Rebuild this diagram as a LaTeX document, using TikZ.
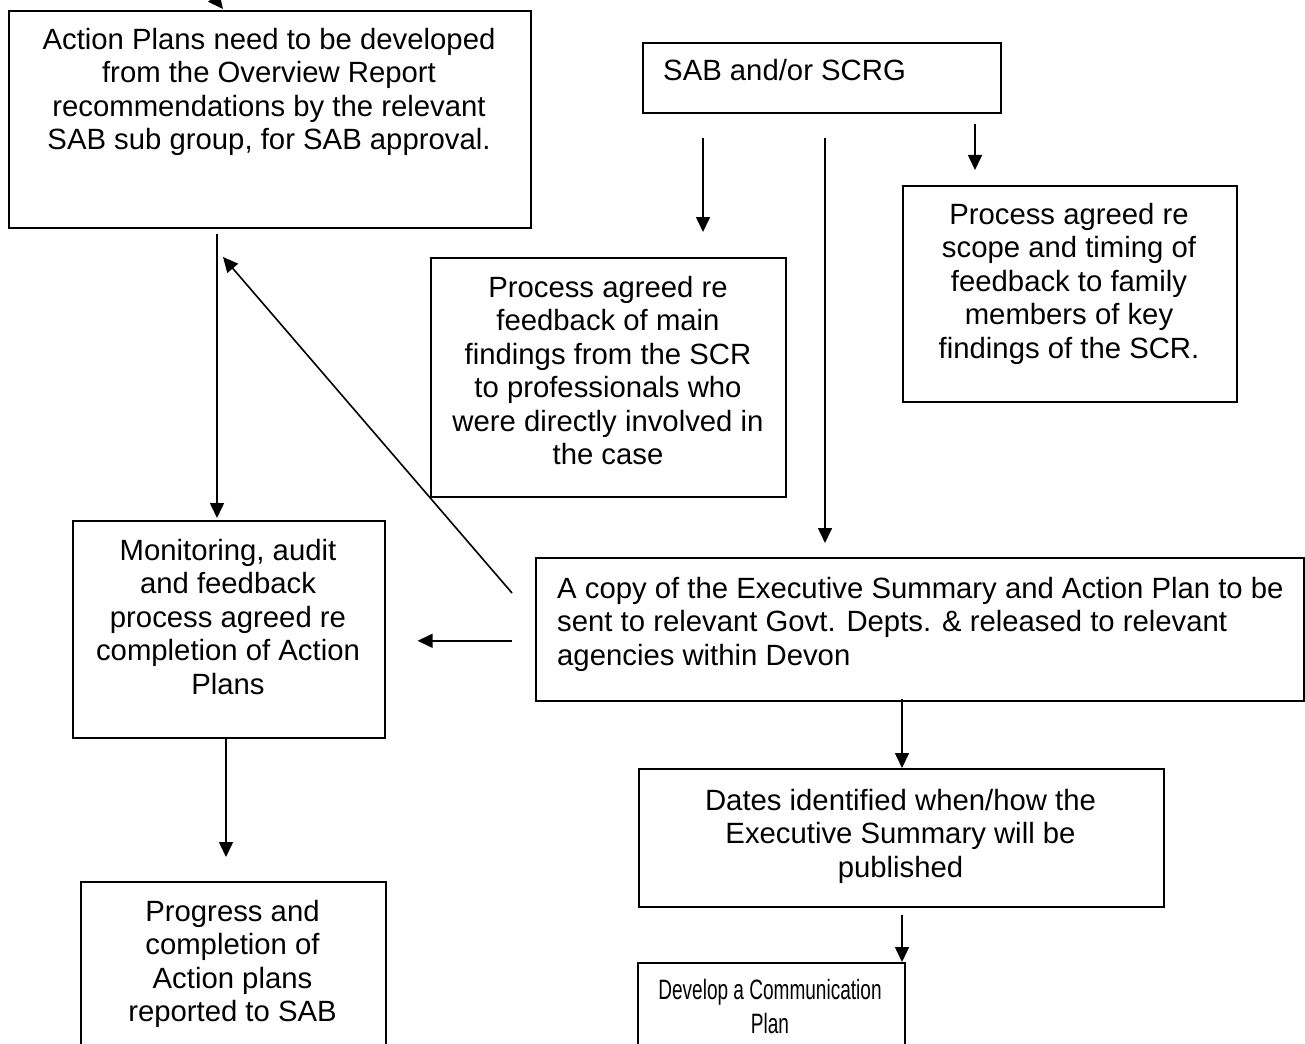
\documentclass[tikz,border=0pt]{standalone}
\usepackage{fontspec}
\setmainfont{Liberation Sans}
\usetikzlibrary{arrows.meta,calc}
\tikzset{
  box/.style={draw, line width=1.6pt, inner sep=0pt, anchor=north west},
  txt/.style={inner sep=0pt, align=center, anchor=north, font=\fontsize{29.3}{33.5}\selectfont},
  ltxt/.style={inner sep=0pt, align=left, anchor=north west, font=\fontsize{29.3}{33.5}\selectfont},
  arr/.style={line width=1.6pt, -{Triangle[length=15pt,width=14pt]}},
}
\begin{document}
\begin{tikzpicture}[x=1pt,y=-1pt]
\useasboundingbox (0,0) rectangle (1305,1043);
\clip (0,0) rectangle (1305,1043);
\fill[white] (0,0) rectangle (1305,1043);
% boxes
\node[box, minimum width=522pt, minimum height=217pt] (pa) at (8,10) {};
\node[box, minimum width=358pt, minimum height=70pt] (sab) at (642,42) {};
\node[box, minimum width=334pt, minimum height=216pt] (scope) at (902,185) {};
\node[box, minimum width=355pt, minimum height=239pt] (fb) at (430,257) {};
\node[box, minimum width=312pt, minimum height=217pt] (mon) at (72,520) {};
\node[box, minimum width=768pt, minimum height=143pt] (copy) at (535,557) {};
\node[box, minimum width=525pt, minimum height=138pt] (dates) at (638,768) {};
\node[box, minimum width=305pt, minimum height=190pt] (prog) at (80,881) {};
\node[box, minimum width=267pt, minimum height=110pt] (comm) at (637,962) {};
% texts
\node[txt] (pa-t) at (269,28) {Action Plans need to be developed\\from the Overview Report\\recommendations by the relevant\\SAB sub group, for SAB approval.};
\node[ltxt] (sab-t) at (663,59) {SAB and/or SCRG};
\node[txt] (scope-t) at (1069,203) {Process agreed re\\scope and timing of\\feedback to family\\members of key\\findings of the SCR.};
\node[txt] (fb-t) at (608,276) {Process agreed re\\feedback of main\\findings from the SCR\\to professionals who\\were directly involved in\\the case};
\node[txt] (mon-t) at (228,539) {Monitoring, audit\\and feedback\\process agreed re\\completion of Action\\Plans};
\node[ltxt] (copy-t) at (557,577) {A copy of the Executive Summary and Action Plan to be\\sent to relevant Govt. Depts. \& released to relevant\\agencies within Devon};
\node[txt] (dates-t) at (900.5,789) {Dates identified when/how the\\Executive Summary will be\\published};
\node[txt] (prog-t) at (232.5,900) {Progress and\\completion of\\Action plans\\reported to SAB};
\node[txt, font=\fontsize{28}{34}\selectfont] (comm-t) at (770,979) {\scalebox{0.68}[1]{Develop a Communication}\\\scalebox{0.68}[1]{Plan}};
% free ends
\coordinate (in0) at (180,-45);
\coordinate (d1) at (512,593);
\coordinate (d2) at (223,257);
% connectors
\draw[arr] (in0) -- ($(pa.north west)+(215,-1)$);
\draw[arr] ($(pa.south west)+(209,5)$) -- ($(mon.north west)+(145,-2)$);
\draw[arr] (d1) -- (d2);
\draw[arr] ($(copy.west)+(-23,11.5)$) -- ($(mon.east)+(32,11.5)$);
\draw[arr] ($(sab.south west)+(61,24)$) -- ($(fb.north west)+(273,-25)$);
\draw[arr] ($(sab.south west)+(183,24)$) -- ($(copy.north west)+(290,-14)$);
\draw[arr] ($(sab.south west)+(333,10)$) -- ($(scope.north west)+(73,-15)$);
\draw[arr] ($(copy.south west)+(367,-3)$) -- ($(dates.north west)+(264,0)$);
\draw[arr] ($(mon.south west)+(154,0)$) -- ($(prog.north west)+(146,-24)$);
\draw[arr] ($(dates.south west)+(264,7)$) -- ($(comm.north west)+(265,0)$);
\end{tikzpicture}
\end{document}
